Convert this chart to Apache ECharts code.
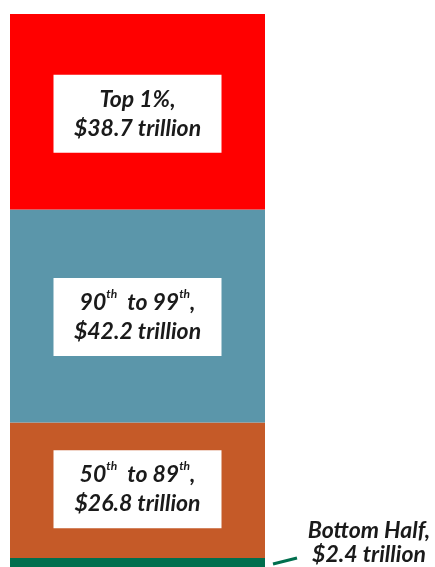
<!DOCTYPE html>
<html>
<head>
<meta charset="utf-8">
<script src="https://cdn.jsdelivr.net/npm/echarts@6/dist/echarts.min.js"></script>
<style>html,body{margin:0;padding:0;background:#fff;}#chart{width:435px;height:567px;}</style>
</head>
<body>
<div id="chart"></div>
<script>
const categories = ['Wealth'];
const segmentNames = ['Bottom Half', '50th to 89th', '90th to 99th', 'Top 1%'];
const values = [2.4, 26.8, 42.2, 38.7];
const valueLabels = ['$2.4 trillion', '$26.8 trillion', '$42.2 trillion', '$38.7 trillion'];
const colors = ['#006f4e', '#c55a28', '#5b96aa', '#ff0000'];

const total = values.reduce((a, b) => a + b, 0);
const FONT = 'Lato';
const textStyle = { fontFamily: FONT, fontStyle: 'italic', fontWeight: 'bold', fontSize: 23, color: '#1a1a1a', lineHeight: 29 };
const supStyle = { fontFamily: FONT, fontStyle: 'italic', fontWeight: 'bold', fontSize: 12, color: '#1a1a1a', lineHeight: 18, verticalAlign: 'top' };

const richNames = [
  null,
  '{t|50}{s|th}{t|  to 89}{s|th}{t|,}',
  '{t|90}{s|th}{t|  to 99}{s|th}{t|,}',
  '{t|Top 1%,}'
];
const labelShift = [0, -1, 1, 2];

const series = values.map((v, i) => {
  let label;
  if (i === 0) {
    label = {
      show: true, position: 'right', distance: 0, offset: [104, -21], align: 'center',
      formatter: segmentNames[i] + ',\n' + valueLabels[i],
      fontFamily: FONT, fontStyle: 'italic', fontWeight: 'bold', fontSize: 23, color: '#1a1a1a', lineHeight: 24
    };
  } else {
    label = {
      show: true, position: 'inside', offset: [0, labelShift[i]],
      formatter: richNames[i] + '\n{t|' + valueLabels[i] + '}',
      backgroundColor: '#ffffff', width: 168, padding: [10, 0, 10, 0], align: 'center', verticalAlign: 'middle',
      rich: { t: textStyle, s: supStyle }
    };
  }
  return {
    name: segmentNames[i], type: 'bar', stack: 'all', data: [v],
    barWidth: '100%', itemStyle: { color: colors[i] }, label: label, silent: true
  };
});

const chart = echarts.init(document.getElementById('chart'));
const gridLeft = 10, gridRight = 170;
chart.setOption({
  animation: false,
  grid: { left: gridLeft, right: gridRight, top: 14, height: 556, outerBoundsMode: 'none', containLabel: false },
  xAxis: { type: 'category', data: categories, show: false },
  yAxis: { type: 'value', min: 0, max: total, show: false },
  series: series
});

const center = chart.convertToPixel({ xAxisIndex: 0 }, categories[0]);
const halfW = (chart.getWidth() - gridLeft - gridRight) / 2;
const rightEdge = center + halfW;
const yMid = chart.convertToPixel({ yAxisIndex: 0 }, values[0] / 2);
chart.setOption({
  graphic: [{
    type: 'line', silent: true,
    shape: { x1: rightEdge + 8, y1: yMid, x2: rightEdge + 32, y2: yMid - 6 },
    style: { stroke: colors[0], lineWidth: 3 }
  }]
});
</script>
</body>
</html>
